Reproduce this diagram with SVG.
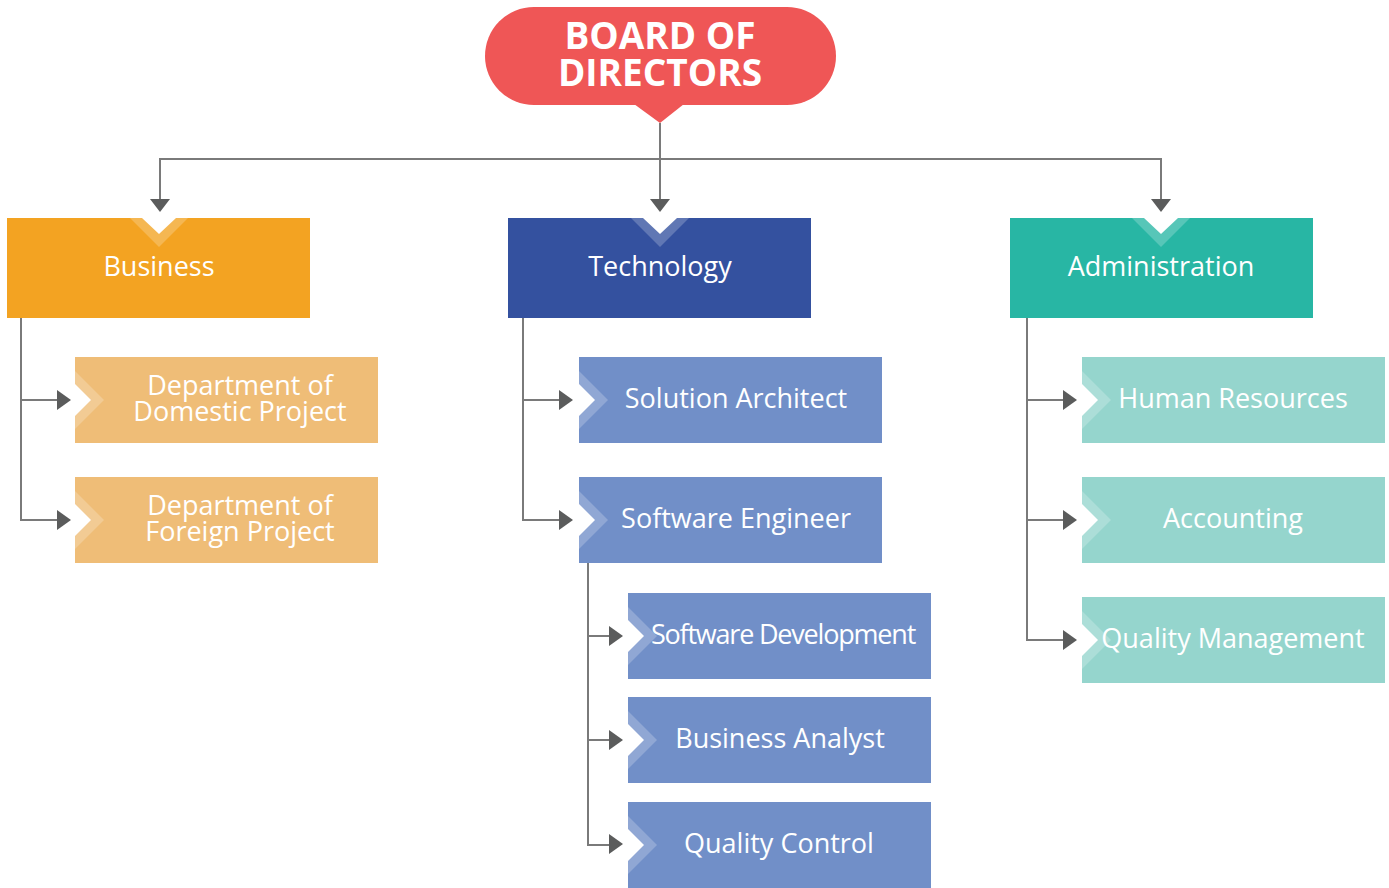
<svg xmlns="http://www.w3.org/2000/svg" width="1389" height="888" viewBox="0 0 1389 888">
<defs>
<style>
.t{font-family:"Open Sans","Liberation Sans",sans-serif;fill:#fff;font-size:27px;text-anchor:middle}
.b{font-family:"Open Sans","Liberation Sans",sans-serif;fill:#fff;font-size:37px;font-weight:bold;text-anchor:middle}
.ln{fill:none;stroke:#7a7a7a;stroke-width:2}
.ah{fill:#5b5c5c}
.band{fill:#fff;fill-opacity:0.22}
.w{fill:#fff}
.biz{fill:#F3A322}.bizs{fill:#EFBD77}
.tec{fill:#34519F}.tecs{fill:#718FC8}
.adm{fill:#28B6A4}.adms{fill:#95D5CD}
</style>
<g id="topnotch">
<polygon class="band" points="-29,0 0,29 29,0"/>
<polygon class="w" points="-17,0 0,16 17,0"/>
</g>
<g id="leftnotch">
<polygon class="band" points="0,-29 29,0 0,29"/>
<polygon class="w" points="0,-16 16,0 0,16"/>
</g>
</defs>
<rect width="1389" height="888" fill="#fff"/>

<g id="connectors">
<path class="ln" d="M660,123V200M160,200V159H1161V200"/>
<polygon class="ah" points="650,199 670,199 660,212"/>
<polygon class="ah" points="150,199 170,199 160,212"/>
<polygon class="ah" points="1151,199 1171,199 1161,212"/>
<path class="ln" d="M21,318V520H58M21,400H58"/>
<polygon class="ah" points="57,390 71,400 57,410"/>
<polygon class="ah" points="57,510 71,520 57,530"/>
<path class="ln" d="M523,318V520H560M523,400H560"/>
<polygon class="ah" points="559,390 573,400 559,410"/>
<polygon class="ah" points="559,510 573,520 559,530"/>
<path class="ln" d="M588,563V845H610M588,636H610M588,740H610"/>
<polygon class="ah" points="609,626 623,636 609,646"/>
<polygon class="ah" points="609,730 623,740 609,750"/>
<polygon class="ah" points="609,834 623,844 609,854"/>
<path class="ln" d="M1027,318V640H1064M1027,400H1064M1027,520H1064"/>
<polygon class="ah" points="1063,390 1077,400 1063,410"/>
<polygon class="ah" points="1063,510 1077,520 1063,530"/>
<polygon class="ah" points="1063,630 1077,640 1063,650"/>
</g>

<g id="board">
<rect x="485" y="7" width="351" height="98" rx="49" fill="#EF5656"/>
<polygon points="634,104 684,104 660,123" fill="#EF5656"/>
<text class="b" x="660" y="49">BOARD OF</text>
<text class="b" x="660" y="86">DIRECTORS</text>
</g>

<g id="business">
<rect class="biz" x="7" y="218" width="303" height="100"/>
<use href="#topnotch" x="159" y="218"/>
<text class="t" x="159" y="276">Business</text>
</g>
<g id="technology">
<rect class="tec" x="508" y="218" width="303" height="100"/>
<use href="#topnotch" x="660" y="218"/>
<text class="t" x="660" y="276">Technology</text>
</g>
<g id="administration">
<rect class="adm" x="1010" y="218" width="303" height="100"/>
<use href="#topnotch" x="1161" y="218"/>
<text class="t" x="1161" y="276">Administration</text>
</g>

<g id="domestic">
<rect class="bizs" x="75" y="357" width="303" height="86"/>
<use href="#leftnotch" x="75" y="400"/>
<text class="t" x="240" y="395">Department of</text>
<text class="t" x="240" y="421">Domestic Project</text>
</g>
<g id="foreign">
<rect class="bizs" x="75" y="477" width="303" height="86"/>
<use href="#leftnotch" x="75" y="520"/>
<text class="t" x="240" y="515">Department of</text>
<text class="t" x="240" y="541">Foreign Project</text>
</g>

<g id="solution">
<rect class="tecs" x="579" y="357" width="303" height="86"/>
<use href="#leftnotch" x="579" y="400"/>
<text class="t" x="736" y="408">Solution Architect</text>
</g>
<g id="software-engineer">
<rect class="tecs" x="579" y="477" width="303" height="86"/>
<use href="#leftnotch" x="579" y="520"/>
<text class="t" x="736" y="528">Software Engineer</text>
</g>
<g id="software-development">
<rect class="tecs" x="628" y="593" width="303" height="86"/>
<use href="#leftnotch" x="628" y="636"/>
<text class="t" x="783" y="644" letter-spacing="-1.2">Software Development</text>
</g>
<g id="business-analyst">
<rect class="tecs" x="628" y="697" width="303" height="86"/>
<use href="#leftnotch" x="628" y="740"/>
<text class="t" x="780" y="748">Business Analyst</text>
</g>
<g id="quality-control">
<rect class="tecs" x="628" y="802" width="303" height="86"/>
<use href="#leftnotch" x="628" y="845"/>
<text class="t" x="779" y="853">Quality Control</text>
</g>

<g id="human-resources">
<rect class="adms" x="1082" y="357" width="303" height="86"/>
<use href="#leftnotch" x="1082" y="400"/>
<text class="t" x="1233" y="408">Human Resources</text>
</g>
<g id="accounting">
<rect class="adms" x="1082" y="477" width="303" height="86"/>
<use href="#leftnotch" x="1082" y="520"/>
<text class="t" x="1233" y="528">Accounting</text>
</g>
<g id="quality-management">
<rect class="adms" x="1082" y="597" width="303" height="86"/>
<use href="#leftnotch" x="1082" y="640"/>
<text class="t" x="1233" y="648">Quality Management</text>
</g>
</svg>
